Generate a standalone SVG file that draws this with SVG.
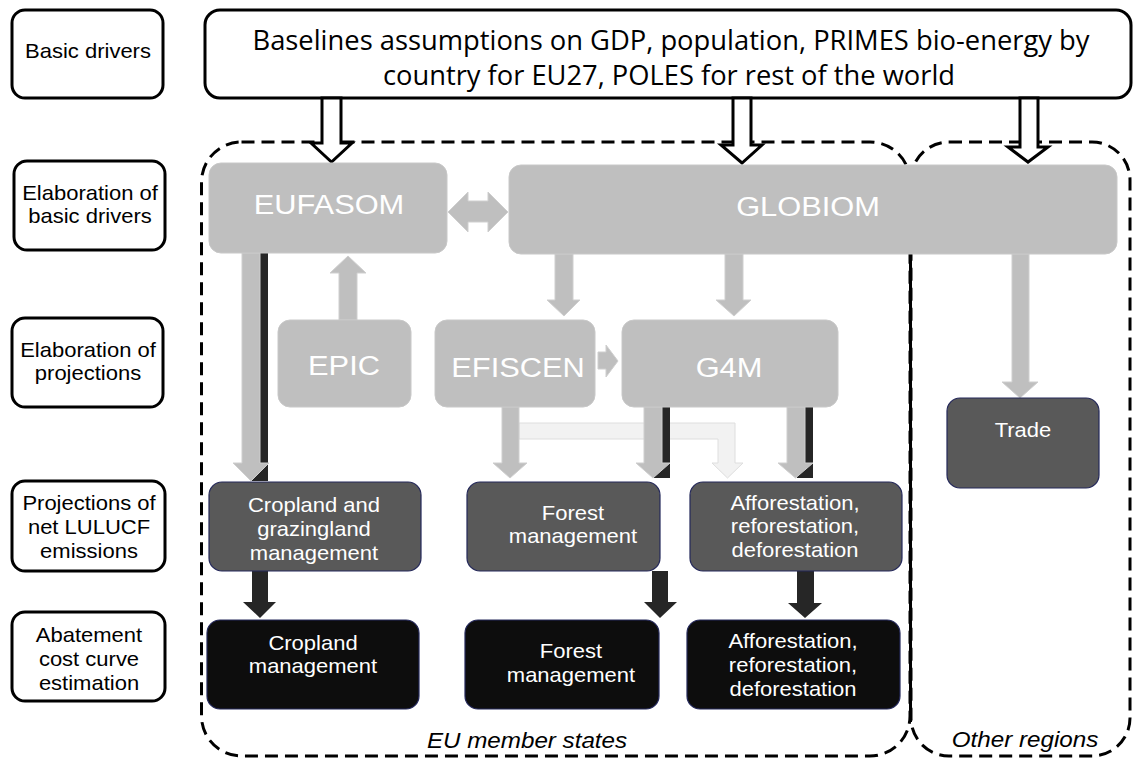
<svg xmlns="http://www.w3.org/2000/svg" width="1133" height="759" viewBox="0 0 1133 759">
<style>
  .lbl rect{fill:#ffffff;stroke:#000000;stroke-width:3}
  .lt{font-family:"Liberation Sans",Arial,sans-serif;font-size:20px;fill:#000000;text-anchor:middle}
  .gray{fill:#bfbfbf;stroke:#c8c8c8;stroke-width:1}
  .gt{font-family:"Liberation Sans",Arial,sans-serif;font-size:28px;fill:#ffffff;text-anchor:middle}
  .mid{fill:#595959;stroke:#24285a;stroke-width:1.2}
  .bot{fill:#0d0d0d;stroke:#24285a;stroke-width:1.2}
  .wt{font-family:"Liberation Sans",Arial,sans-serif;font-size:20px;fill:#ffffff;text-anchor:middle}
  .dash{fill:none;stroke:#000000;stroke-width:3;stroke-dasharray:13 7}
  .hollow{fill:#ffffff;stroke:#000000;stroke-width:3;stroke-linejoin:miter}
  .garr{fill:#bfbfbf;stroke:#cfcfcf;stroke-width:1}
  .darr{fill:#262626}
  .larr{fill:#f2f2f2;stroke:#dedede;stroke-width:1}
  .region{font-family:"Liberation Sans",Arial,sans-serif;font-size:22px;font-style:italic;fill:#000000;text-anchor:middle}
</style>

<!-- left column labels -->
<g id="label-basic-drivers" class="lbl">
  <rect x="12" y="10" width="151" height="88" rx="13"/>
  <g transform="translate(88,0) scale(1.1,1)"><text class="lt" x="0" y="58">Basic drivers</text></g>
</g>
<g id="label-elab-drivers" class="lbl">
  <rect x="14" y="161" width="151" height="89" rx="13"/>
  <g transform="translate(90,0) scale(1.1,1)"><text class="lt" x="0" y="200">Elaboration of</text><text class="lt" x="0" y="223">basic drivers</text></g>
</g>
<g id="label-elab-proj" class="lbl">
  <rect x="12" y="318" width="151" height="89" rx="13"/>
  <g transform="translate(88,0) scale(1.1,1)"><text class="lt" x="0" y="357">Elaboration of</text><text class="lt" x="0" y="380">projections</text></g>
</g>
<g id="label-projections" class="lbl">
  <rect x="12" y="481" width="153" height="90" rx="13"/>
  <g transform="translate(89,0) scale(1.1,1)"><text class="lt" x="0" y="510">Projections of</text><text class="lt" x="0" y="534">net LULUCF</text><text class="lt" x="0" y="558">emissions</text></g>
</g>
<g id="label-abatement" class="lbl">
  <rect x="12" y="612" width="153" height="89" rx="13"/>
  <g transform="translate(89,0) scale(1.1,1)"><text class="lt" x="0" y="642">Abatement</text><text class="lt" x="0" y="666">cost curve</text><text class="lt" x="0" y="690">estimation</text></g>
</g>

<!-- top box -->
<g id="baselines">
  <rect x="205" y="10" width="926" height="88" rx="15" fill="#ffffff" stroke="#000000" stroke-width="3"/>
  <text x="671" y="50" font-family="'Open Sans','Noto Sans',sans-serif" font-size="28" text-anchor="middle" textLength="837" lengthAdjust="spacingAndGlyphs" fill="#000000">Baselines assumptions on GDP, population, PRIMES bio-energy by</text>
  <text x="669" y="85" font-family="'Open Sans','Noto Sans',sans-serif" font-size="28" text-anchor="middle" textLength="572" lengthAdjust="spacingAndGlyphs" fill="#000000">country for EU27, POLES for rest of the world</text>
</g>

<!-- regions -->
<g id="regions">
  <rect class="dash" x="201.5" y="142" width="708.5" height="614" rx="40"/>
  <rect class="dash" x="911" y="142" width="219" height="614" rx="38"/>
  <line x1="910.5" y1="250" x2="910.5" y2="722" stroke="#000000" stroke-width="3"/>
  <g transform="translate(527,0) scale(1.1,1)"><text class="region" x="0" y="748">EU member states</text></g>
  <g transform="translate(1025,0) scale(1.1,1)"><text class="region" x="0" y="747">Other regions</text></g>
</g>

<!-- connectors -->
<g id="connectors">
  <!-- hollow arrows from baselines -->
  <polygon class="hollow" points="322,98 341,98 341,143 352,143 331.5,162 311,143 322,143"/>
  <polygon class="hollow" points="733,98 751,98 751,145 762,145 742,163 721,145 733,145"/>
  <polygon class="hollow" points="1020,98 1038,98 1038,147 1048,147 1028,162 1008,147 1020,147"/>
  <!-- light arrow EFISCEN -> afforestation -->
  <polygon class="larr" points="519,423 735,423 735,463 743,463 727.5,478 712,463 718,463 718,439 519,439"/>
  <!-- dark underlays -->
  <rect class="darr" x="252" y="253" width="16" height="228"/>
  <rect class="darr" x="654" y="407" width="16" height="71"/>
  <rect class="darr" x="797" y="407" width="16" height="71"/>
  <!-- gray arrows -->
  <polygon class="garr" points="242,253 260,253 260,463 269,463 251,481 233,463 242,463"/>
  <polygon class="garr" points="339,320 357,320 357,273 366,273 348,256 330,273 339,273"/>
  <polygon class="garr" points="448,212 468,192 468,201 488,201 488,192 508,212 488,232 488,222 468,222 468,232"/>
  <polygon class="garr" points="555,254 573,254 573,300 580,300 564,316 547,300 555,300"/>
  <polygon class="garr" points="725,254 743,254 743,300 751,300 734,316 716,300 725,300"/>
  <polygon class="garr" points="1012,254 1029,254 1029,382 1038,382 1020,398 1002,382 1012,382"/>
  <polygon class="garr" points="598,352 606,352 606,345 618,361 606,377 606,369 598,369"/>
  <polygon class="garr" points="502,407 519,407 519,463 527,463 510,478 493,463 502,463"/>
  <polygon class="garr" points="644,407 662,407 662,463 670,463 653,478 636,463 644,463"/>
  <polygon class="garr" points="787,407 805,407 805,463 813,463 795.5,478 778,463 787,463"/>
  <!-- dark arrows to abatement row -->
  <polygon class="darr" points="252,571 268,571 268,602 276,602 260,618 243,602 252,602"/>
  <polygon class="darr" points="652,571 668,571 668,602 677,602 660,618 644,602 652,602"/>
  <polygon class="darr" points="797,571 814,571 814,603 822,603 805,618 788,603 797,603"/>
</g>

<!-- model nodes -->
<g id="eufasom">
  <rect class="gray" x="209" y="163" width="238" height="90" rx="12"/>
  <g transform="translate(329,0) scale(1.1,1)"><text class="gt" x="0" y="214">EUFASOM</text></g>
</g>
<g id="globiom">
  <rect class="gray" x="509" y="165" width="608" height="89" rx="12"/>
  <g transform="translate(808,0) scale(1.1,1)"><text class="gt" x="0" y="216">GLOBIOM</text></g>
</g>
<g id="epic">
  <rect class="gray" x="278" y="320" width="133" height="87" rx="12"/>
  <g transform="translate(344,0) scale(1.1,1)"><text class="gt" x="0" y="375">EPIC</text></g>
</g>
<g id="efiscen">
  <rect class="gray" x="435" y="320" width="160" height="87" rx="12"/>
  <g transform="translate(518,0) scale(1.1,1)"><text class="gt" x="0" y="377">EFISCEN</text></g>
</g>
<g id="g4m">
  <rect class="gray" x="622" y="320" width="216" height="87" rx="12"/>
  <g transform="translate(729,0) scale(1.1,1)"><text class="gt" x="0" y="377">G4M</text></g>
</g>

<!-- projection nodes -->
<g id="cropland-grazing">
  <rect class="mid" x="209" y="482" width="212" height="89" rx="13"/>
  <g transform="translate(314,0) scale(1.1,1)"><text class="wt" x="0" y="512">Cropland and</text><text class="wt" x="0" y="536">grazingland</text><text class="wt" x="0" y="560">management</text></g>
</g>
<g id="forest-mgmt">
  <rect class="mid" x="467" y="482" width="193" height="89" rx="13"/>
  <g transform="translate(573,0) scale(1.1,1)"><text class="wt" x="0" y="520">Forest</text><text class="wt" x="0" y="543">management</text></g>
</g>
<g id="afforestation">
  <rect class="mid" x="690" y="482" width="212" height="89" rx="13"/>
  <g transform="translate(795,0) scale(1.1,1)"><text class="wt" x="0" y="510">Afforestation,</text><text class="wt" x="0" y="533">reforestation,</text><text class="wt" x="0" y="557">deforestation</text></g>
</g>
<g id="trade">
  <rect class="mid" x="947" y="398" width="152" height="90" rx="13"/>
  <g transform="translate(1023,0) scale(1.1,1)"><text class="wt" x="0" y="437">Trade</text></g>
</g>

<!-- abatement nodes -->
<g id="cropland-mgmt">
  <rect class="bot" x="207" y="620" width="212" height="89" rx="13"/>
  <g transform="translate(313,0) scale(1.1,1)"><text class="wt" x="0" y="650">Cropland</text><text class="wt" x="0" y="673">management</text></g>
</g>
<g id="forest-mgmt-abate">
  <rect class="bot" x="465" y="620" width="194" height="89" rx="13"/>
  <g transform="translate(571,0) scale(1.1,1)"><text class="wt" x="0" y="658">Forest</text><text class="wt" x="0" y="682">management</text></g>
</g>
<g id="afforestation-abate">
  <rect class="bot" x="687" y="620" width="213" height="89" rx="13"/>
  <g transform="translate(793,0) scale(1.1,1)"><text class="wt" x="0" y="648">Afforestation,</text><text class="wt" x="0" y="672">reforestation,</text><text class="wt" x="0" y="696">deforestation</text></g>
</g>
</svg>
